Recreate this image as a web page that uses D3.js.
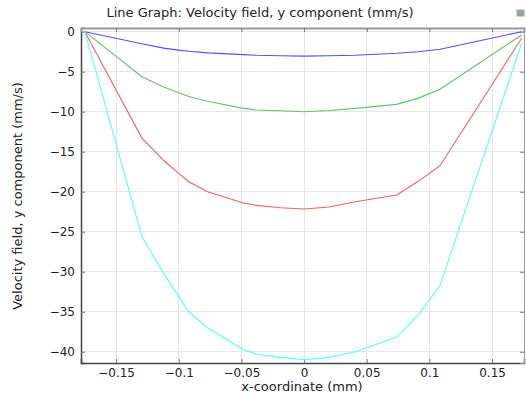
<!DOCTYPE html>
<html><head><meta charset="utf-8">
<script src="https://cdn.jsdelivr.net/npm/d3@7"></script>
<style>body{margin:0;background:#fff}svg{display:block}text{font-family:"DejaVu Sans",sans-serif;fill:#222}</style>
</head><body><svg id="c" width="526" height="394"></svg>
<script>
const xNodes = [-0.175,-0.1294,-0.112,-0.1,-0.092,-0.077,-0.0484,-0.0377,-0.019,0,0.02,0.041,0.0739,0.0911,0.1085,0.1736];
const blueVals = [0,-1.5,-2.05,-2.3,-2.45,-2.65,-2.87,-2.95,-3.0,-3.05,-3.0,-2.95,-2.7,-2.5,-2.2,0];
const greenVals = [0,-5.63,-6.9,-7.63,-8.1,-8.7,-9.58,-9.79,-9.88,-10.0,-9.85,-9.58,-9.08,-8.3,-7.2,-0.41];
const redVals = [0,-13.3,-16.1,-17.7,-18.75,-20.0,-21.4,-21.7,-22.0,-22.15,-21.9,-21.25,-20.4,-18.7,-16.75,-0.83];
const cyanVals = [0,-25.6,-30.2,-33.1,-35.0,-37.0,-39.7,-40.3,-40.7,-41.0,-40.7,-40.0,-38.2,-35.4,-31.7,-1.45];
const xTicks = [-0.15,-0.1,-0.05,0,0.05,0.1,0.15];
const yTicks = [0,-5,-10,-15,-20,-25,-30,-35,-40];
const seriesNames = ["blue","green","red","cyan"];
const seriesColors = ["#5050ff","#66c266","#ff5c5c","#55ffff"];
const seriesVals = [blueVals,greenVals,redVals,cyanVals];

const svg = d3.select("#c");
const L=81,R=524,T=28,B=363;
const x = d3.scaleLinear().domain([-0.178,0.1755]).range([L,R]);
const y = d3.scaleLinear().domain([-41.4,0.46]).range([B,T]);

// grid
svg.append("g").selectAll("line").data(xTicks).join("line")
 .attr("x1",d=>x(d)).attr("x2",d=>x(d)).attr("y1",T).attr("y2",B)
 .attr("stroke","#e6e6e6").attr("stroke-width",1).attr("shape-rendering","crispEdges");
svg.append("g").selectAll("line").data(yTicks).join("line")
 .attr("y1",d=>y(d)).attr("y2",d=>y(d)).attr("x1",L).attr("x2",R)
 .attr("stroke","#e6e6e6").attr("stroke-width",1).attr("shape-rendering","crispEdges");

// axes
const gx = svg.append("g").attr("transform",`translate(0,${B})`)
 .call(d3.axisBottom(x).tickValues(xTicks).tickSize(-4).tickPadding(5).tickFormat(d3.format("")));
const gy = svg.append("g").attr("transform",`translate(${L},0)`)
 .call(d3.axisLeft(y).tickValues(yTicks).tickSize(-4).tickPadding(6).tickFormat(d3.format("")));
const gxt = svg.append("g").attr("transform",`translate(0,${T})`)
 .call(d3.axisTop(x).tickValues(xTicks).tickSize(-4).tickFormat(""));
const gyr = svg.append("g").attr("transform",`translate(${R},0)`)
 .call(d3.axisRight(y).tickValues(yTicks).tickSize(-4).tickFormat(""));
[gx,gy,gxt,gyr].forEach(g=>{g.selectAll("text").style("font-size","12px").attr("fill","#222");
 g.selectAll("line").attr("stroke","#777");});
gx.select(".domain").attr("stroke","#444").attr("stroke-width",1.5);
gy.select(".domain").attr("stroke","#444").attr("stroke-width",1.5);
gxt.select(".domain").attr("stroke","#999").attr("stroke-width",2);
gyr.select(".domain").attr("stroke","#999").attr("stroke-width",1);

// lines
const line = d3.line().x((d,i)=>x(xNodes[i])).y(d=>y(d));
svg.append("g").selectAll("path").data(seriesVals).join("path")
 .attr("d",line).attr("fill","none").attr("stroke",(d,i)=>seriesColors[i]).attr("stroke-width",1.1);

// labels
svg.append("text").attr("x",260).attr("y",17).attr("text-anchor","middle").style("font-size","13px")
 .text("Line Graph: Velocity field, y component (mm/s)");
svg.append("text").attr("x",302).attr("y",391).attr("text-anchor","middle").style("font-size","13px")
 .text("x-coordinate (mm)");
svg.append("text").attr("transform","translate(22,196) rotate(-90)").attr("text-anchor","middle").style("font-size","13px")
 .text("Velocity field, y component (mm/s)");
// small icon at top right
svg.append("rect").attr("x",517).attr("y",10).attr("width",7).attr("height",6).attr("fill","#7aa6d6").attr("stroke","#c9a640").attr("stroke-width",1);
</script></body></html>
